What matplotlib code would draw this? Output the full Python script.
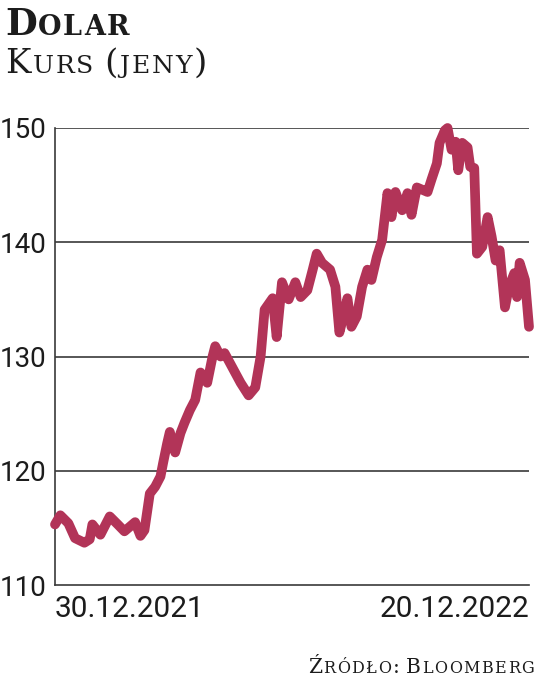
import datetime as dt
import matplotlib
matplotlib.use('Agg')
import matplotlib.pyplot as plt

# kurs dolara w jenach, odczyt z wykresu (dni od 30.12.2021)
start = dt.date(2021, 12, 30)
day_offsets = [0, 4, 10, 15, 22, 26, 28, 34, 41, 47, 52, 60, 64, 67, 71, 75, 79, 81,
               84, 86, 90, 94, 97, 101, 105, 109, 114, 118, 120, 124, 127, 133, 139,
               145, 150, 154, 157, 163, 166, 170, 175, 180, 184, 189, 193, 196, 200,
               206, 210, 213, 216, 219, 222, 226, 230, 234, 237, 241, 245, 249, 252,
               255, 260, 264, 267, 271, 275, 279, 282, 286, 288, 292, 294, 297, 300,
               302, 305, 309, 311, 314, 316, 320, 324, 327, 330, 333, 337, 340, 344,
               346, 348, 352, 355]
kurs = [115.3, 116.1, 115.4, 114.1, 113.7, 114.0, 115.3, 114.4, 116.0, 115.3, 114.7,
        115.5, 114.3, 114.8, 118.0, 118.6, 119.5, 120.7, 122.4, 123.4, 121.6, 123.3,
        124.2, 125.3, 126.2, 128.6, 127.7, 130.0, 130.9, 130.0, 130.3, 129.0, 127.7,
        126.6, 127.3, 130.0, 134.1, 135.1, 131.7, 136.5, 135.0, 136.5, 135.2, 135.8,
        137.6, 139.0, 138.2, 137.6, 136.1, 132.1, 133.5, 135.1, 132.6, 133.5, 136.1,
        137.6, 136.7, 138.7, 140.2, 144.3, 142.2, 144.4, 142.8, 144.3, 142.4, 144.8,
        144.6, 144.4, 145.5, 146.9, 148.7, 149.8, 150.0, 148.1, 148.8, 146.3, 148.7,
        148.3, 146.6, 146.5, 139.0, 139.6, 142.2, 140.5, 138.4, 139.3, 134.3, 136.1,
        137.3, 135.2, 138.2, 136.7, 132.6]
dates = [start + dt.timedelta(days=d) for d in day_offsets]
y_ticks = [110, 120, 130, 140, 150]
x_labels = ['30.12.2021', '20.12.2022']

W, H = 536, 682
sans = 'Roboto'
serif = 'DejaVu Serif'
ink = '#1c1c1c'

fig = plt.figure(figsize=(W / 100, H / 100), dpi=100)
ax = fig.add_axes([55 / W, 1 - 585 / H, 474 / W, 457 / H])

ax.plot(dates, kurs, color='#b23458', lw=7, solid_capstyle='round',
        solid_joinstyle='round', clip_on=False, zorder=3)

ax.set_ylim(110, 150)
ax.set_xlim(dates[0], dates[-1])
ax.set_yticks(y_ticks)
for v in y_ticks[1:]:
    ax.axhline(v, color='#3a3a3a', lw=1.2, zorder=1)

for s in ['top', 'right']:
    ax.spines[s].set_visible(False)
for s in ['left', 'bottom']:
    ax.spines[s].set_color('#3a3a3a')
    ax.spines[s].set_linewidth(1.2)

ax.tick_params(axis='y', length=0, pad=6, labelsize=20, labelcolor=ink)
ax.tick_params(axis='x', length=0, pad=7, labelsize=21.5, labelcolor=ink)
for lab in ax.get_yticklabels():
    lab.set_family(sans)
ax.set_xticks([dates[0], dates[-1]], x_labels)
for lab, ha in zip(ax.get_xticklabels(), ['left', 'right']):
    lab.set_family(sans)
    lab.set_ha(ha)


def small_caps(text, x, y, big, small, weight='normal', ha='left', track=1.5):
    renderer = fig.canvas.get_renderer()
    pieces = []
    total = 0
    for ch in text:
        size = small if ch.islower() else big
        if ch == ' ':
            w = size / 72 * 100 * 0.25
            pieces.append((None, w))
        else:
            t = fig.text(0, 1 - y / H, ch.upper(), fontsize=size, family=serif,
                         weight=weight, color=ink, va='baseline', ha='left')
            w = t.get_window_extent(renderer).width + track
            pieces.append((t, w))
        total += w
    total -= track
    cur = x - total if ha == 'right' else x
    for t, w in pieces:
        if t is not None:
            t.set_x(cur / W)
        cur += w


small_caps('Dolar', 5, 35, 26.5, 19.5, weight='bold', track=1.5)
small_caps('Kurs (jeny)', 5, 73, 24.5, 18, track=2)
small_caps('Źródło: Bloomberg', 534, 673, 14.5, 11.5, ha='right', track=1.5)

fig.savefig('out.png', dpi=100)
